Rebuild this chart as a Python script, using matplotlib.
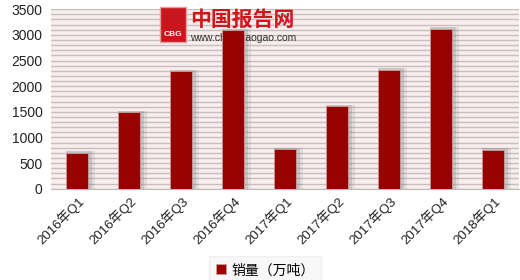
import numpy as np
import matplotlib.pyplot as plt
from matplotlib.patches import Rectangle

# 销量 by quarter
quarters = ["2016年Q1", "2016年Q2", "2016年Q3", "2016年Q4", "2017年Q1",
            "2017年Q2", "2017年Q3", "2017年Q4", "2018年Q1"]
sales = [700, 1490, 2290, 3090, 770, 1610, 2320, 3120, 755]
yticks = [0, 500, 1000, 1500, 2000, 2500, 3000, 3500]
legend_label = "销量（万吨）"

fonts = ['Liberation Sans', 'Noto Sans CJK SC', 'DejaVu Sans']
plt.rcParams['font.family'] = fonts

fig = plt.figure(figsize=(5.2, 2.8), dpi=100)
ax = fig.add_axes([0.098, 0.326, 0.9, 0.641])
ax.set_facecolor('#f8eeee')

x = np.arange(len(quarters))

# thin grey lines every 100
for v in np.arange(0, 3501, 100):
    ax.axhline(v, color='#c6bfbf', lw=1.0, zorder=1)

# soft shadow behind bars
for dx, a in [(0.03, 0.25), (0.06, 0.15)]:
    ax.bar(x + dx, np.array(sales) + 30, width=0.44 + 2 * dx, color='#808080',
           alpha=a, zorder=2, linewidth=0)
ax.bar(x, sales, width=0.42, color='#990000', edgecolor='#c8a0a0', linewidth=0.6,
       zorder=3, label=legend_label)

ax.set_xlim(-0.5, len(quarters) - 0.5)
ax.set_ylim(0, 3500)
ax.set_yticks(yticks)
ax.set_xticks(x)
ax.set_xticklabels(quarters, rotation=45, ha='right', rotation_mode='anchor')
ax.tick_params(axis='y', length=0, labelsize=10, colors='#222222', pad=6)
ax.tick_params(axis='x', length=0, labelsize=9.5, colors='#222222', pad=4)
for s in ['top', 'right', 'left']:
    ax.spines[s].set_visible(False)
ax.spines['bottom'].set_color('#bbbbbb')

# watermark
ax.add_patch(Rectangle((0.233, 0.82), 0.056, 0.19, transform=ax.transAxes,
                       facecolor='#c8161d', edgecolor='#e0a0a0', lw=1, zorder=2.5,
                       clip_on=False))
ax.text(0.261, 0.86, "CBG", transform=ax.transAxes, color='white', fontsize=6,
        ha='center', va='center', fontweight='bold', zorder=2.6)
ax.text(0.297, 0.94, "中国报告网", transform=ax.transAxes, color='#d2141c',
        fontsize=15, fontweight='bold', ha='left', va='center', zorder=2.5)
ax.text(0.297, 0.84, "www.chinabaogao.com", transform=ax.transAxes, color='#333333',
        fontsize=7.5, ha='left', va='center', zorder=2.5)

leg = fig.legend(loc='center', bbox_to_anchor=(0.51, 0.035), frameon=True,
                 fontsize=10, handlelength=0.7, handleheight=0.7, handletextpad=0.4,
                 fancybox=False, shadow=False, borderpad=0.5, borderaxespad=0)
leg.get_frame().set_facecolor('#f7f7f7')
leg.get_frame().set_edgecolor('#eeeeee')

fig.savefig('out.png', dpi=100)
